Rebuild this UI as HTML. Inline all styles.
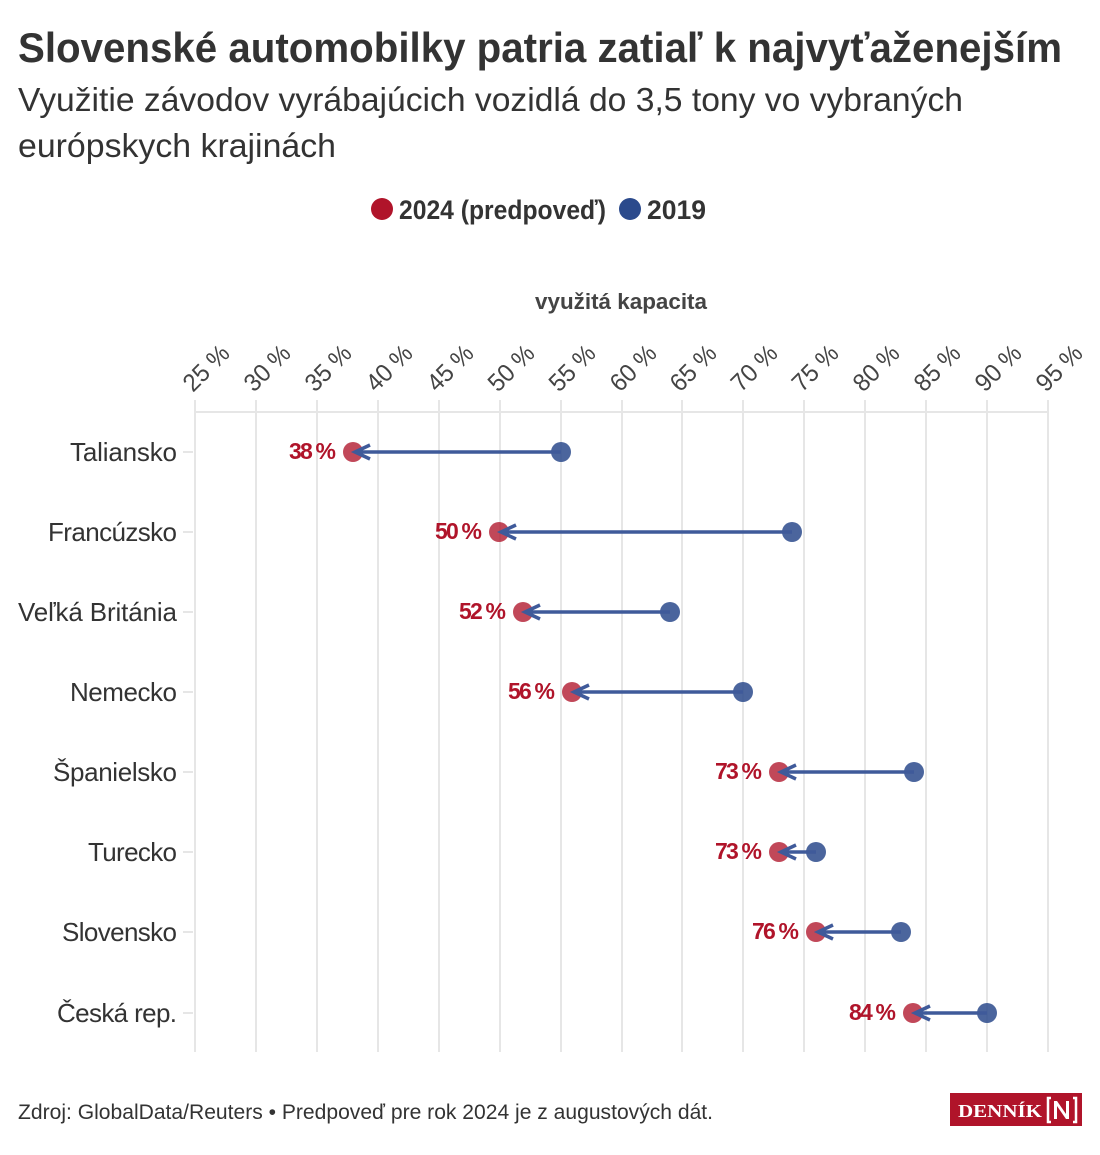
<!DOCTYPE html>
<html><head><meta charset="utf-8"><style>
body{margin:0;background:#fff;}
svg text{font-family:"Liberation Sans Narrow","Liberation Sans",sans-serif;}
</style></head><body>
<svg width="1100" height="1150" viewBox="0 0 1100 1150" xmlns="http://www.w3.org/2000/svg">
<text x="18" y="62" font-size="42" font-weight="bold" fill="#333" textLength="1044" lengthAdjust="spacingAndGlyphs">Slovenské automobilky patria zatiaľ k najvyťaženejším</text>
<text x="18" y="111" font-size="33" fill="#333" textLength="945" lengthAdjust="spacingAndGlyphs">Využitie závodov vyrábajúcich vozidlá do 3,5 tony vo vybraných</text>
<text x="18" y="157" font-size="33" fill="#333" textLength="318" lengthAdjust="spacingAndGlyphs">európskych krajinách</text>
<circle cx="382" cy="209" r="11" fill="#b0142a"/>
<text x="399" y="219" font-size="27" font-weight="bold" fill="#333" textLength="207" lengthAdjust="spacingAndGlyphs">2024 (predpoveď)</text>
<circle cx="630" cy="209" r="11" fill="#2b4a8c"/>
<text x="647" y="219" font-size="27" font-weight="bold" fill="#333" textLength="59" lengthAdjust="spacingAndGlyphs">2019</text>
<text x="621" y="309" font-size="22" font-weight="bold" fill="#444" text-anchor="middle" textLength="172" lengthAdjust="spacingAndGlyphs">využitá kapacita</text>
<g stroke="#e6e6e6" stroke-width="2">
<line x1="195" y1="412" x2="1048" y2="412"/>
<line x1="195" y1="400" x2="195" y2="1052"/><line x1="256" y1="400" x2="256" y2="1052"/><line x1="317" y1="400" x2="317" y2="1052"/><line x1="378" y1="400" x2="378" y2="1052"/><line x1="439" y1="400" x2="439" y2="1052"/><line x1="500" y1="400" x2="500" y2="1052"/><line x1="561" y1="400" x2="561" y2="1052"/><line x1="622" y1="400" x2="622" y2="1052"/><line x1="682" y1="400" x2="682" y2="1052"/><line x1="743" y1="400" x2="743" y2="1052"/><line x1="804" y1="400" x2="804" y2="1052"/><line x1="865" y1="400" x2="865" y2="1052"/><line x1="926" y1="400" x2="926" y2="1052"/><line x1="987" y1="400" x2="987" y2="1052"/><line x1="1048" y1="400" x2="1048" y2="1052"/>
<line x1="183" y1="452" x2="193" y2="452"/><line x1="183" y1="532" x2="193" y2="532"/><line x1="183" y1="612" x2="193" y2="612"/><line x1="183" y1="692" x2="193" y2="692"/><line x1="183" y1="772" x2="193" y2="772"/><line x1="183" y1="852" x2="193" y2="852"/><line x1="183" y1="932" x2="193" y2="932"/><line x1="183" y1="1013" x2="193" y2="1013"/>
</g>
<g font-size="25" fill="#444">
<text transform="translate(193,393) rotate(-45)" textLength="54" lengthAdjust="spacingAndGlyphs">25 %</text><text transform="translate(254,393) rotate(-45)" textLength="54" lengthAdjust="spacingAndGlyphs">30 %</text><text transform="translate(315,393) rotate(-45)" textLength="54" lengthAdjust="spacingAndGlyphs">35 %</text><text transform="translate(376,393) rotate(-45)" textLength="54" lengthAdjust="spacingAndGlyphs">40 %</text><text transform="translate(437,393) rotate(-45)" textLength="54" lengthAdjust="spacingAndGlyphs">45 %</text><text transform="translate(498,393) rotate(-45)" textLength="54" lengthAdjust="spacingAndGlyphs">50 %</text><text transform="translate(559,393) rotate(-45)" textLength="54" lengthAdjust="spacingAndGlyphs">55 %</text><text transform="translate(620,393) rotate(-45)" textLength="54" lengthAdjust="spacingAndGlyphs">60 %</text><text transform="translate(680,393) rotate(-45)" textLength="54" lengthAdjust="spacingAndGlyphs">65 %</text><text transform="translate(741,393) rotate(-45)" textLength="54" lengthAdjust="spacingAndGlyphs">70 %</text><text transform="translate(802,393) rotate(-45)" textLength="54" lengthAdjust="spacingAndGlyphs">75 %</text><text transform="translate(863,393) rotate(-45)" textLength="54" lengthAdjust="spacingAndGlyphs">80 %</text><text transform="translate(924,393) rotate(-45)" textLength="54" lengthAdjust="spacingAndGlyphs">85 %</text><text transform="translate(985,393) rotate(-45)" textLength="54" lengthAdjust="spacingAndGlyphs">90 %</text><text transform="translate(1046,393) rotate(-45)" textLength="54" lengthAdjust="spacingAndGlyphs">95 %</text>
</g>
<g font-size="26" fill="#333" text-anchor="end" lengthAdjust="spacingAndGlyphs">
<text x="177" y="461" textLength="107">Taliansko</text><text x="177" y="541" textLength="129">Francúzsko</text><text x="177" y="621" textLength="159">Veľká Británia</text><text x="177" y="701" textLength="107">Nemecko</text><text x="177" y="781" textLength="124">Španielsko</text><text x="177" y="861" textLength="89">Turecko</text><text x="177" y="941" textLength="115">Slovensko</text><text x="177" y="1022" textLength="120">Česká rep.</text>
</g>
<g fill="#b0142a" fill-opacity="0.78">
<circle cx="353" cy="452" r="10"/><circle cx="499" cy="532" r="10"/><circle cx="523" cy="612" r="10"/><circle cx="572" cy="692" r="10"/><circle cx="779" cy="772" r="10"/><circle cx="779" cy="852" r="10"/><circle cx="816" cy="932" r="10"/><circle cx="913" cy="1013" r="10"/>
</g>
<g fill="#2b4a8c" fill-opacity="0.85">
<circle cx="561" cy="452" r="10"/><circle cx="792" cy="532" r="10"/><circle cx="670" cy="612" r="10"/><circle cx="743" cy="692" r="10"/><circle cx="914" cy="772" r="10"/><circle cx="816" cy="852" r="10"/><circle cx="901" cy="932" r="10"/><circle cx="987" cy="1013" r="10"/>
</g>
<g stroke="#3f5a9a" stroke-width="3.5" fill="none">
<path d="M561 452H355M370 445L355 452L370 459"/>
<path d="M792 532H501M516 525L501 532L516 539"/>
<path d="M670 612H525M540 605L525 612L540 619"/>
<path d="M743 692H574M589 685L574 692L589 699"/>
<path d="M914 772H781M796 765L781 772L796 779"/>
<path d="M816 852H781M796 845L781 852L796 859"/>
<path d="M901 932H818M833 925L818 932L833 939"/>
<path d="M987 1013H915M930 1006L915 1013L930 1020"/>
</g>
<g font-size="23" font-weight="bold" fill="#b0142a" text-anchor="end" lengthAdjust="spacingAndGlyphs">
<text x="336" y="459" textLength="47">38 %</text><text x="482" y="539" textLength="47">50 %</text><text x="506" y="619" textLength="47">52 %</text><text x="555" y="699" textLength="47">56 %</text><text x="762" y="779" textLength="47">73 %</text><text x="762" y="859" textLength="47">73 %</text><text x="799" y="939" textLength="47">76 %</text><text x="896" y="1020" textLength="47">84 %</text>
</g>
<text x="18" y="1119" font-size="21" fill="#333" textLength="695" lengthAdjust="spacingAndGlyphs">Zdroj: GlobalData/Reuters • Predpoveď pre rok 2024 je z augustových dát.</text>
<rect x="950" y="1093" width="132" height="33" fill="#b0142a"/>
<text x="958" y="1117" font-size="18" font-weight="bold" fill="#fff" textLength="84" lengthAdjust="spacingAndGlyphs" style="font-family:'Liberation Serif',serif">DENNÍK</text>
<path d="M1051 1098h-3v24h3M1073 1098h3v24h-3" stroke="#fff" stroke-width="2.5" fill="none"/>
<path d="M1054 1119V1101h3l9 13V1101h3v18h-3l-9-13v13z" fill="#fff"/>
</svg>
</body></html>
